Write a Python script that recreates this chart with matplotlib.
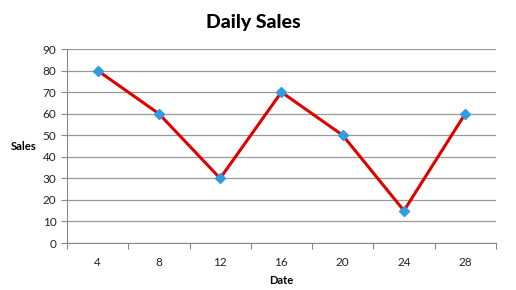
import matplotlib
matplotlib.use("Agg")
import matplotlib.pyplot as plt
import numpy as np

dates = ["4", "8", "12", "16", "20", "24", "28"]
sales = [80, 60, 30, 70, 50, 15, 60]

plt.rcParams['font.family'] = ['Lato', 'DejaVu Sans']

fig = plt.figure(figsize=(5.16, 2.90), dpi=100)
ax = fig.add_axes([0.1298, 0.162, 0.8312, 0.669])

x = np.arange(len(dates))
ax.plot(x, sales, color='#e00000', linewidth=2.2, zorder=3)
ax.plot(x, sales, linestyle='none', marker='D', markersize=5,
        markerfacecolor='#2f9be0', markeredgecolor='#2f9be0', zorder=4)

ax.set_xlim(-0.5, len(dates) - 0.5)
ax.set_ylim(0, 90)
ax.set_yticks(range(0, 91, 10))
ax.set_xticks(x)
ax.set_xticklabels(dates)
ax.set_xticks(np.arange(-0.5, len(dates)), minor=True)
ax.tick_params(axis='x', which='major', length=0, pad=10, labelsize=8.5, colors='#222222')
ax.tick_params(axis='x', which='minor', length=4, color='#888888', width=0.8)
ax.tick_params(axis='y', length=4, color='#888888', width=0.8, labelsize=8.5, labelcolor='#222222')

ax.grid(axis='y', color='#999999', linewidth=0.9)
ax.set_axisbelow(True)
for s in ['top', 'right']:
    ax.spines[s].set_visible(False)
ax.spines['left'].set_color('#888888')
ax.spines['bottom'].set_color('#888888')

ax.set_xlabel('Date', fontsize=8, fontweight='bold', labelpad=5)
ax.set_ylabel('Sales', fontsize=8, fontweight='bold', rotation=0, labelpad=14, va='center')
fig.text(0.49, 0.922, 'Daily Sales', ha='center', va='center', fontsize=14, fontweight='black')

fig.savefig('out.png', dpi=100)
